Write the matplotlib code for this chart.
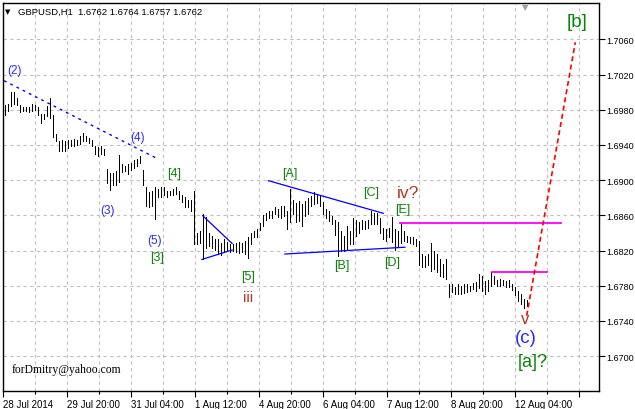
import matplotlib
matplotlib.use('Agg')
import matplotlib.pyplot as plt

plt.rcParams['font.family'] = ['Liberation Sans', 'DejaVu Sans']

# GBPUSD H1, one bar every 1.5 h (high / low)
highs = [1.6986, 1.6987, 1.7000, 1.7000, 1.6993, 1.6986, 1.6983, 1.6983, 1.6983, 1.6987, 1.6986,
         1.6983, 1.6975, 1.6975, 1.6984, 1.6993, 1.6974, 1.6953, 1.6945, 1.6946, 1.6944, 1.6946,
         1.6946, 1.6947, 1.6946, 1.6950, 1.6954, 1.6950, 1.6948, 1.6946, 1.6939, 1.6938, 1.6939,
         1.6935, 1.6913, 1.6908, 1.6908, 1.6910, 1.6929, 1.6918, 1.6916, 1.6918, 1.6919, 1.6923,
         1.6924, 1.6927, 1.6912, 1.6892, 1.6887, 1.6888, 1.6892, 1.6890, 1.6892, 1.6892, 1.6888,
         1.6888, 1.6890, 1.6892, 1.6888, 1.6883, 1.6881, 1.6878, 1.6877, 1.6888, 1.6840, 1.6842,
         1.6862, 1.6858, 1.6840, 1.6836, 1.6833, 1.6833, 1.6829, 1.6833, 1.6830, 1.6827, 1.6827,
         1.6829, 1.6830, 1.6828, 1.6831, 1.6835, 1.6840, 1.6842, 1.6844, 1.6851, 1.6860,
         1.6863, 1.6865, 1.6865, 1.6869, 1.6867, 1.6871, 1.6871, 1.6865, 1.6890, 1.6878, 1.6874,
         1.6876, 1.6873, 1.6876, 1.6880, 1.6882, 1.6886, 1.6883, 1.6882, 1.6875, 1.6867, 1.6865,
         1.6859, 1.6855, 1.6852, 1.6842, 1.6836, 1.6848, 1.6842, 1.6857, 1.6855, 1.6852, 1.6855,
         1.6854, 1.6855, 1.6865, 1.6863, 1.6863, 1.6857, 1.6846, 1.6845, 1.6846, 1.6858, 1.6845,
         1.6842, 1.6851, 1.6842, 1.6837, 1.6835, 1.6835, 1.6833, 1.6831, 1.6816, 1.6814, 1.6816,
         1.6829, 1.6820, 1.6816, 1.6810, 1.6805, 1.6810, 1.6782, 1.6782, 1.6779, 1.6782, 1.6780,
         1.6782, 1.6782, 1.6780, 1.6783, 1.6784, 1.6793, 1.6791, 1.6785, 1.6787, 1.6795, 1.6791,
         1.6786, 1.6788, 1.6786, 1.6785, 1.6786, 1.6782, 1.6779, 1.6774, 1.6770, 1.6765, 1.6764]
lows = [1.6974, 1.6979, 1.6984, 1.6987, 1.6985, 1.6978, 1.6979, 1.6979, 1.6978, 1.6979, 1.6980,
        1.6974, 1.6965, 1.6969, 1.6973, 1.6971, 1.6949, 1.6944, 1.6933, 1.6933, 1.6933, 1.6937,
        1.6939, 1.6939, 1.6940, 1.6941, 1.6944, 1.6944, 1.6942, 1.6939, 1.6930, 1.6928, 1.6930,
        1.6929, 1.6897, 1.6889, 1.6895, 1.6895, 1.6898, 1.6909, 1.6910, 1.6907, 1.6912, 1.6914,
        1.6916, 1.6920, 1.6895, 1.6871, 1.6869, 1.6871, 1.6856, 1.6881, 1.6881, 1.6883, 1.6881,
        1.6883, 1.6883, 1.6884, 1.6879, 1.6875, 1.6869, 1.6870, 1.6865, 1.6827, 1.6827, 1.6829,
        1.6810, 1.6823, 1.6825, 1.6823, 1.6821, 1.6816, 1.6815, 1.6818, 1.6820, 1.6818, 1.6820,
        1.6818, 1.6817, 1.6818, 1.6816, 1.6812, 1.6827, 1.6835, 1.6835, 1.6843, 1.6848,
        1.6855, 1.6857, 1.6857, 1.6861, 1.6858, 1.6857, 1.6859, 1.6844, 1.6852, 1.6861, 1.6852,
        1.6853, 1.6848, 1.6859, 1.6861, 1.6871, 1.6873, 1.6874, 1.6871, 1.6861, 1.6857, 1.6854,
        1.6850, 1.6838, 1.6814, 1.6819, 1.6819, 1.6821, 1.6827, 1.6827, 1.6836, 1.6840, 1.6844,
        1.6844, 1.6846, 1.6850, 1.6850, 1.6850, 1.6840, 1.6833, 1.6831, 1.6835, 1.6830, 1.6821,
        1.6825, 1.6829, 1.6831, 1.6830, 1.6829, 1.6827, 1.6825, 1.6803, 1.6801, 1.6801, 1.6803,
        1.6797, 1.6799, 1.6795, 1.6791, 1.6790, 1.6788, 1.6767, 1.6773, 1.6771, 1.6771, 1.6771,
        1.6772, 1.6773, 1.6774, 1.6776, 1.6774, 1.6777, 1.6774, 1.6771, 1.6774, 1.6780, 1.6782,
        1.6780, 1.6780, 1.6781, 1.6778, 1.6779, 1.6775, 1.6769, 1.6762, 1.6759, 1.6755, 1.6757]

price_ticks = [1.6700, 1.6740, 1.6780, 1.6820, 1.6860, 1.6900, 1.6940, 1.6980, 1.7020, 1.7060]
time_labels = ['28 Jul 2014', '29 Jul 20:00', '31 Jul 04:00', '1 Aug 12:00', '4 Aug 20:00',
               '6 Aug 04:00', '7 Aug 12:00', '8 Aug 20:00', '12 Aug 04:00', '']

# trend lines: (x0, x1), (y0, y1) in bar / price
channel_x, channel_y = [-0.3, 51.0], [1.70131, 1.69241]
tri_small_up_x, tri_small_up_y = [65.9, 75.7], [1.68596, 1.68280]
tri_small_lo_x, tri_small_lo_y = [65.6, 75.7], [1.68098, 1.68206]
tri_big_up_x, tri_big_up_y = [87.8, 126.1], [1.68994, 1.68623]
tri_big_lo_x, tri_big_lo_y = [93.3, 133.3], [1.68160, 1.68237]
level_e_x, level_e_y = [131.7, 185.3], [1.6851, 1.6851]
level_v_x, level_v_y = [162.2, 180.6], [1.6795, 1.6795]
target_x, target_y = [173.9, 190.1], [1.67459, 1.70568]

# wave labels
blue_txt = ['(2)', '(3)', '(4)', '(5)']
blue_x = [3.0, 34.0, 44.3, 49.7]
blue_y = [1.70257, 1.68661, 1.69491, 1.68319]
green_txt = ['[3]', '[4]', '[5]', '[A]', '[B]', '[C]', '[D]', '[E]']
green_x = [50.7, 56.3, 81.0, 95.0, 112.3, 122.0, 129.0, 132.7]
green_y = [1.68126, 1.69082, 1.67910, 1.69082, 1.68035, 1.68865, 1.68069, 1.68672]
red_txt = ['iii', 'iv?', 'v']
red_x = [81.0, 134.3, 173.3]
red_y = [1.67671, 1.68865, 1.67421]
red_size = [11, 12.5, 12]

BLUE = '#2b2bff'
GREEN = '#0a850a'
BROWN = '#b03a20'

fig = plt.figure(figsize=(6.35, 4.10), dpi=100)
ax = fig.add_axes([3/635, 18/410, 596/635, 388/410])

xs = list(range(len(highs)))
ax.vlines(xs, lows, highs, color='black', lw=0.72, antialiased=False)

ax.plot(channel_x, channel_y, color='blue', lw=1, ls=(0, (2, 3)))
ax.plot(tri_small_up_x, tri_small_up_y, color='blue', lw=0.9)
ax.plot(tri_small_lo_x, tri_small_lo_y, color='blue', lw=0.9)
ax.plot(tri_big_up_x, tri_big_up_y, color='blue', lw=0.9)
ax.plot(tri_big_lo_x, tri_big_lo_y, color='blue', lw=0.9)
ax.plot(level_e_x, level_e_y, color='#ff00ff', lw=1.3)
ax.plot(level_v_x, level_v_y, color='#ff00ff', lw=1.3)
ax.plot(target_x, target_y, color='red', lw=1.2, ls=(0, (3, 2)))

for t, x, y in zip(blue_txt, blue_x, blue_y):
    ax.text(x, y, t, color=BLUE, fontsize=8.5, ha='center', va='center')
for t, x, y in zip(green_txt, green_x, green_y):
    ax.text(x, y, t, color=GREEN, fontsize=9, ha='center', va='center')
for t, x, y, s in zip(red_txt, red_x, red_y, red_size):
    ax.text(x, y, t, color=BROWN, fontsize=s, ha='center', va='center')
ax.text(173.7, 1.67205, '(c)', color=BLUE, fontsize=13.5, ha='center', va='center')
ax.text(176.0, 1.66932, '[a]?', color=GREEN, fontsize=13, ha='center', va='center')
ax.text(190.7, 1.70810, '[b]', color=GREEN, fontsize=13.5, ha='center', va='center')
ax.text(2.3, 1.6685, 'forDmitry@yahoo.com', family='Liberation Serif', fontsize=8.4,
        ha='left', va='center', color='black')

ax.set_xlim(-0.667, 198)
ax.set_ylim(1.66602, 1.71015)

# time axis: grid every 16 h (32 px), label every 32 h
major = [(-2 + 64 * k) / 3 for k in range(10)]
minor = [(30 + 64 * k) / 3 for k in range(9)]
ax.set_xticks(major)
ax.set_xticklabels(time_labels, fontsize=7, ha='left')
ax.set_xticks(minor, minor=True)
ax.set_yticks(price_ticks)
ax.set_yticklabels(['%.4f' % p for p in price_ticks], fontsize=6.5)
ax.yaxis.tick_right()
ax.tick_params(axis='both', which='both', length=4, width=0.8, color='black', pad=1.5)
ax.tick_params(axis='x', which='minor', length=2)
ax.grid(True, which='both', color='#c0c0c0', ls=(0, (3, 3)), lw=0.8)
ax.set_axisbelow(True)
for sp in ax.spines.values():
    sp.set_color('black')
    sp.set_linewidth(1)

fig.text(18/635, 1 - 12/410, 'GBPUSD,H1  1.6762 1.6764 1.6757 1.6762', fontsize=6.8,
         ha='left', va='center')
fig.text(8/635, 1 - 12/410, '\u25bc', fontsize=5, ha='center', va='center', family='DejaVu Sans')
fig.text(525/635, 1 - 8/410, '\u25bc', fontsize=6, ha='center', va='center', color='#a0a0a0',
         family='DejaVu Sans')

fig.savefig('out.png', dpi=100)
